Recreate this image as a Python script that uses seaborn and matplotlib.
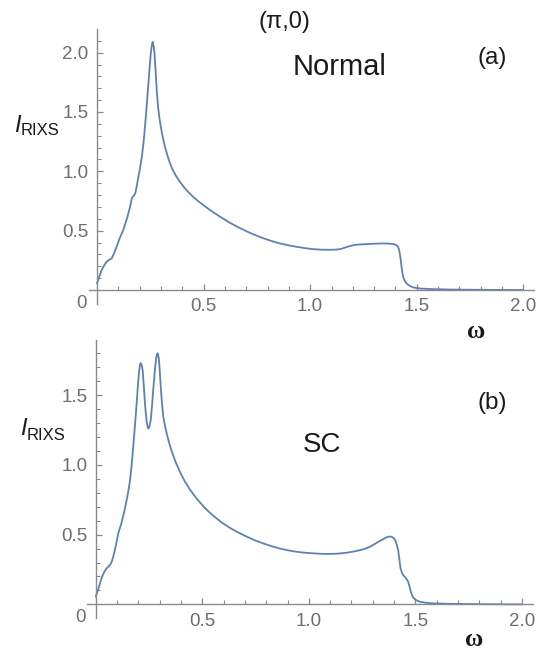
import numpy as np
import pandas as pd
import matplotlib
matplotlib.use("Agg")
import matplotlib.pyplot as plt
import seaborn as sns

# ---- data ----
omega_normal = [0.0, 0.01, 0.02, 0.03, 0.038, 0.045, 0.055, 0.069, 0.08, 0.092,
                0.105, 0.123, 0.14, 0.155, 0.16, 0.165, 0.170, 0.175, 0.18, 0.187,
                0.194, 0.202, 0.21, 0.218, 0.225, 0.233, 0.241, 0.247, 0.252, 0.256,
                0.261, 0.265, 0.27, 0.275, 0.28, 0.287, 0.295, 0.30, 0.31, 0.319,
                0.33, 0.342, 0.355, 0.37, 0.389, 0.41, 0.43, 0.45, 0.475, 0.498,
                0.52, 0.545, 0.58, 0.623, 0.66, 0.702, 0.74, 0.78, 0.82, 0.858,
                0.90, 0.936, 0.975, 1.014, 1.05, 1.092, 1.12, 1.139, 1.155, 1.171,
                1.19, 1.21, 1.235, 1.264, 1.30, 1.342, 1.37, 1.389, 1.40, 1.408,
                1.413, 1.417, 1.421, 1.425, 1.429, 1.433, 1.438, 1.444, 1.452, 1.465,
                1.483, 1.52, 1.577, 1.65, 1.75, 1.9, 2.0]
I_normal = [0.056, 0.11, 0.16, 0.196, 0.22, 0.238, 0.252, 0.267, 0.31, 0.365,
            0.43, 0.505, 0.60, 0.70, 0.745, 0.78, 0.79, 0.80, 0.82, 0.88,
            0.955, 1.03, 1.12, 1.24, 1.375, 1.55, 1.74, 1.88, 1.99, 2.05,
            2.09, 2.06, 1.99, 1.84, 1.685, 1.53, 1.42, 1.365, 1.275, 1.205,
            1.135, 1.07, 1.012, 0.963, 0.911, 0.862, 0.822, 0.787, 0.748, 0.716,
            0.687, 0.656, 0.614, 0.567, 0.531, 0.494, 0.464, 0.436, 0.412, 0.392,
            0.376, 0.364, 0.353, 0.344, 0.34, 0.339, 0.34, 0.344, 0.352, 0.362,
            0.372, 0.38, 0.384, 0.387, 0.39, 0.392, 0.391, 0.387, 0.382, 0.372,
            0.36, 0.34, 0.30, 0.25, 0.19, 0.14, 0.10, 0.075, 0.056, 0.037,
            0.022, 0.012, 0.007, 0.004, 0.002, 0.0005, 0.0]

omega_sc = [0.0, 0.01, 0.02, 0.028, 0.036, 0.047, 0.059, 0.068, 0.075, 0.082,
            0.09, 0.098, 0.106, 0.114, 0.122, 0.133, 0.145, 0.153, 0.161, 0.168,
            0.176, 0.184, 0.192, 0.198, 0.204, 0.208, 0.211, 0.215, 0.22, 0.226,
            0.231, 0.235, 0.239, 0.243, 0.247, 0.252, 0.258, 0.264, 0.27, 0.277,
            0.283, 0.287, 0.29, 0.293, 0.297, 0.301, 0.306, 0.311, 0.317, 0.325,
            0.333, 0.345, 0.356, 0.375, 0.395, 0.418, 0.442, 0.47, 0.504, 0.525,
            0.551, 0.59, 0.63, 0.67, 0.708, 0.745, 0.786, 0.825, 0.864, 0.90,
            0.942, 0.98, 1.02, 1.06, 1.098, 1.14, 1.177, 1.215, 1.255, 1.29,
            1.317, 1.34, 1.364, 1.378, 1.388, 1.398, 1.405, 1.412, 1.419, 1.425,
            1.43, 1.437, 1.445, 1.452, 1.459, 1.466, 1.472, 1.477, 1.483, 1.489,
            1.50, 1.52, 1.55, 1.583, 1.65, 1.75, 1.9, 2.0]
I_sc = [0.055, 0.10, 0.15, 0.19, 0.22, 0.25, 0.27, 0.285, 0.305, 0.34,
        0.39, 0.45, 0.51, 0.55, 0.59, 0.66, 0.748, 0.81, 0.89, 0.99,
        1.13, 1.28, 1.44, 1.57, 1.68, 1.72, 1.73, 1.72, 1.68, 1.56,
        1.44, 1.37, 1.31, 1.275, 1.26, 1.275, 1.32, 1.42, 1.54, 1.67,
        1.76, 1.79, 1.80, 1.79, 1.75, 1.66, 1.54, 1.44, 1.345, 1.28,
        1.225, 1.155, 1.10, 1.02, 0.95, 0.882, 0.823, 0.765, 0.705, 0.672,
        0.636, 0.588, 0.548, 0.514, 0.486, 0.46, 0.437, 0.417, 0.40, 0.388,
        0.377, 0.37, 0.366, 0.362, 0.361, 0.364, 0.37, 0.38, 0.394, 0.415,
        0.44, 0.46, 0.48, 0.486, 0.485, 0.476, 0.462, 0.43, 0.39, 0.32,
        0.26, 0.225, 0.205, 0.195, 0.18, 0.162, 0.13, 0.10, 0.07, 0.05,
        0.033, 0.019, 0.011, 0.007, 0.004, 0.002, 0.0005, 0.0]

x_major = [0.5, 1.0, 1.5, 2.0]
x_labels = ["0.5", "1.0", "1.5", "2.0"]
y_major_a = [0.5, 1.0, 1.5, 2.0]
y_labels_a = ["0.5", "1.0", "1.5", "2.0"]
y_major_b = [0.5, 1.0, 1.5]
y_labels_b = ["0.5", "1.0", "1.5"]

sns.set_style("white")
plt.rcParams["font.family"] = ["Liberation Sans", "DejaVu Sans"]

W, H = 540, 653
fig = plt.figure(figsize=(W / 100, H / 100), dpi=100)

line_col = "#5E81B5"
axis_col = "#8a8a8a"
label_col = "#6e6e6e"


def px_rect(x0, x1, ytop, ybot):
    return [x0 / W, 1 - ybot / H, (x1 - x0) / W, (ybot - ytop) / H]


def setup(ax, xlim, ylim, yt, yl):
    ax.set_xlim(*xlim)
    ax.set_ylim(*ylim)
    for s in ["top", "right"]:
        ax.spines[s].set_visible(False)
    for s in ["left", "bottom"]:
        ax.spines[s].set_position(("data", 0))
        ax.spines[s].set_color(axis_col)
        ax.spines[s].set_linewidth(1.0)
    ax.set_xticks(x_major)
    ax.set_xticklabels(x_labels)
    ax.set_xticks(np.arange(0.1, 2.01, 0.1), minor=True)
    ax.set_yticks(yt)
    ax.set_yticklabels(yl)
    ax.set_yticks(np.arange(0.1, ylim[1], 0.1), minor=True)
    ax.tick_params(which="both", bottom=True, left=True, top=False, right=False)
    ax.tick_params(which="major", direction="in", length=4.5, width=0.9,
                   color=axis_col, labelsize=13.5, labelcolor=label_col, pad=6)
    ax.tick_params(which="minor", direction="in", length=2.6, width=0.8,
                   color=axis_col)
    ax.set_xlabel("")
    ax.set_ylabel("")
    ax.patch.set_alpha(0)
    ax.annotate("0", xy=(0, 0), xycoords="data", xytext=(-11, -9.5),
                textcoords="offset points", ha="center", va="center",
                fontsize=13.5, color=label_col)


# top panel
ax1 = fig.add_axes(px_rect(88.5, 534.0, 28.9, 304.0))
df_a = pd.DataFrame({"omega": omega_normal, "I": I_normal})
sns.lineplot(data=df_a, x="omega", y="I", ax=ax1, color=line_col, lw=1.3,
             sort=False, estimator=None)
setup(ax1, (-0.04, 2.05), (-0.118, 2.2), y_major_a, y_labels_a)

# bottom panel
ax2 = fig.add_axes(px_rect(87.2, 532.6, 340.0, 618.3))
df_b = pd.DataFrame({"omega": omega_sc, "I": I_sc})
sns.lineplot(data=df_b, x="omega", y="I", ax=ax2, color=line_col, lw=1.3,
             sort=False, estimator=None)
setup(ax2, (-0.04, 2.05), (-0.1, 1.895), y_major_b, y_labels_b)


def ftext(x, y, s, **kw):
    fig.text(x / W, 1 - y / H, s, **kw)


txt = "#1a1a1a"
ftext(284, 22, "(π,0)", fontsize=17, ha="center", va="center", color=txt)
ftext(340, 75, "Normal", fontsize=21, ha="center", va="baseline", color=txt)
ftext(492, 58, "(a)", fontsize=17.5, ha="center", va="center", color=txt)
ftext(492, 403, "(b)", fontsize=17.5, ha="center", va="center", color=txt)
ftext(322, 451.7, "SC", fontsize=20, ha="center", va="baseline", color=txt)

# y labels
ftext(17, 132, "I", fontsize=17, style="italic", ha="center", va="baseline", color=txt)
ftext(40, 135, "RIXS", fontsize=12, ha="center", va="baseline", color=txt)
ftext(23.5, 435, "I", fontsize=17, style="italic", ha="center", va="baseline", color=txt)
ftext(46, 440, "RIXS", fontsize=12, ha="center", va="baseline", color=txt)

# x labels
ftext(476, 338, "ω", fontsize=18, family=["Liberation Serif", "DejaVu Serif"],
      fontweight="bold", ha="center", va="baseline", color=txt)
ftext(474, 646.5, "ω", fontsize=18, family=["Liberation Serif", "DejaVu Serif"],
      fontweight="bold", ha="center", va="baseline", color=txt)

fig.savefig("out.png", dpi=100)
